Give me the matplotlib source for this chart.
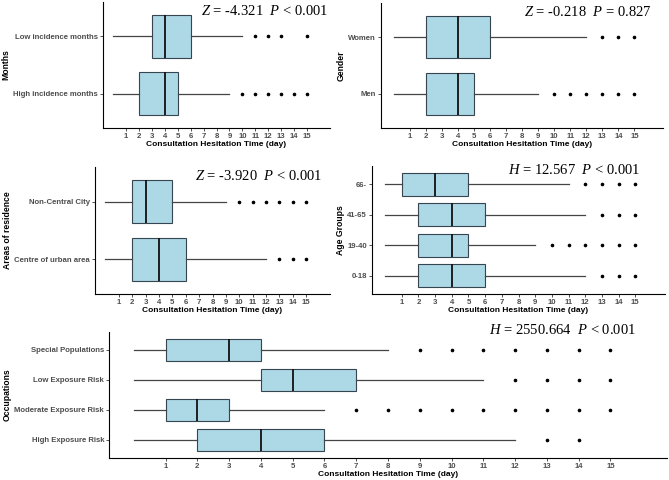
import matplotlib
matplotlib.use("Agg")
import matplotlib.pyplot as plt

plt.rcParams['font.family'] = ['Liberation Sans', 'DejaVu Sans']
plt.rcParams['mathtext.fontset'] = 'custom'
plt.rcParams['mathtext.rm'] = 'Liberation Serif'
plt.rcParams['mathtext.it'] = 'Liberation Serif:italic'

# box stats: whisker low, q1, median, q3, whisker high, outliers
month_labels = ["High incidence months", "Low incidence months"]
month_stats = [[0, 2, 4, 5, 9, [10, 11, 12, 13, 14, 15]],
               [0, 3, 4, 6, 10, [11, 12, 13, 15]]]

gender_labels = ["Men", "Women"]
gender_stats = [[0, 2, 4, 5, 9, [10, 11, 12, 13, 14, 15]],
                [0, 2, 4, 6, 12, [13, 14, 15]]]

area_labels = ["Centre of urban area", "Non-Central City"]
area_stats = [[0, 2, 4, 6, 12, [13, 14, 15]],
              [0, 2, 3, 5, 9, [10, 11, 12, 13, 14, 15]]]

age_labels = ["0-18", "19-40", "41-65", "66-"]
age_stats = [[0, 2, 4, 6, 12, [13, 14, 15]],
             [0, 2, 4, 5, 9, [10, 11, 12, 13, 14, 15]],
             [0, 2, 4, 6, 12, [13, 14, 15]],
             [0, 1, 3, 5, 11, [12, 13, 14, 15]]]

occ_labels = ["High Exposure Risk", "Moderate Exposure Risk", "Low Exposure Risk", "Special Populations"]
occ_stats = [[0, 2, 4, 6, 12, [13, 14]],
             [0, 1, 2, 3, 6, [7, 8, 9, 10, 11, 12, 13, 14, 15]],
             [0, 4, 5, 7, 11, [12, 13, 14, 15]],
             [0, 1, 3, 4, 8, [9, 10, 11, 12, 13, 14, 15]]]

day_ticks = list(range(1, 16))
xlab = "Consultation Hesitation Time (day)"

W, H = 669, 480
fig = plt.figure(figsize=(W / 100, H / 100), dpi=100)


def box_panel(px, labels, stats, ylabel, note, note_xy):
    l, t, r, b = px
    ax = fig.add_axes([l / W, 1 - b / H, (r - l) / W, (b - t) / H])
    bs = []
    for lab, s in zip(labels, stats):
        bs.append(dict(label=lab, whislo=s[0], q1=s[1], med=s[2], q3=s[3], whishi=s[4], fliers=s[5]))
    ax.bxp(bs, positions=range(1, len(bs) + 1), vert=False, widths=0.75,
           patch_artist=True, showcaps=False,
           boxprops=dict(facecolor='#ADD8E6', edgecolor='#36454F', linewidth=0.8),
           medianprops=dict(color='#111111', linewidth=1.3),
           whiskerprops=dict(color='#444444', linewidth=0.9),
           flierprops=dict(marker='o', markersize=1.6, markerfacecolor='black', markeredgecolor='black'))
    ax.set_xlim(-0.78, 16.78)
    ax.set_ylim(0.4, len(bs) + 0.6)
    ax.set_xticks(day_ticks)
    ax.set_xticklabels([str(d) for d in day_ticks])
    ax.set_yticks(range(1, len(bs) + 1))
    ax.set_yticklabels(labels)
    for sp in ['top', 'right']:
        ax.spines[sp].set_visible(False)
    for sp in ['left', 'bottom']:
        ax.spines[sp].set_linewidth(0.8)
    ax.tick_params(axis='both', length=2, width=0.6, color='#333333', pad=1.5,
                   labelsize=5.6, labelcolor='#4D4D4D')
    for t_ in ax.get_xticklabels() + ax.get_yticklabels():
        t_.set_fontweight('bold')
    ax.set_xlabel(xlab, fontsize=6, fontweight='bold', labelpad=1)
    ax.set_ylabel(ylabel, fontsize=6.2, fontweight='bold', labelpad=2)
    fig.text(note_xy[0] / W, 1 - note_xy[1] / H, note, ha='right', va='center',
             fontsize=10.5, family='Liberation Serif')
    return ax


box_panel((103, 2, 330, 128), month_labels, month_stats, "Months",
          r"$\mathit{Z}$ = -4.321  $\mathit{P}$ < 0.001", (328, 11))
box_panel((381, 3, 663, 128), gender_labels, gender_stats, "Gender",
          r"$\mathit{Z}$ = -0.218  $\mathit{P}$ = 0.827", (652, 12))
box_panel((95, 167, 330, 294), area_labels, area_stats, "Areas of residence",
          r"$\mathit{Z}$ = -3.920  $\mathit{P}$ < 0.001", (322, 176))
box_panel((372, 166, 665, 294), age_labels, age_stats, "Age Groups",
          r"$\mathit{H}$ = 12.567  $\mathit{P}$ < 0.001", (640, 170))
box_panel((109, 332, 667, 458), occ_labels, occ_stats, "Occupations",
          r"$\mathit{H}$ = 2550.664  $\mathit{P}$ < 0.001", (636, 330))

fig.savefig("out.png", dpi=100)
